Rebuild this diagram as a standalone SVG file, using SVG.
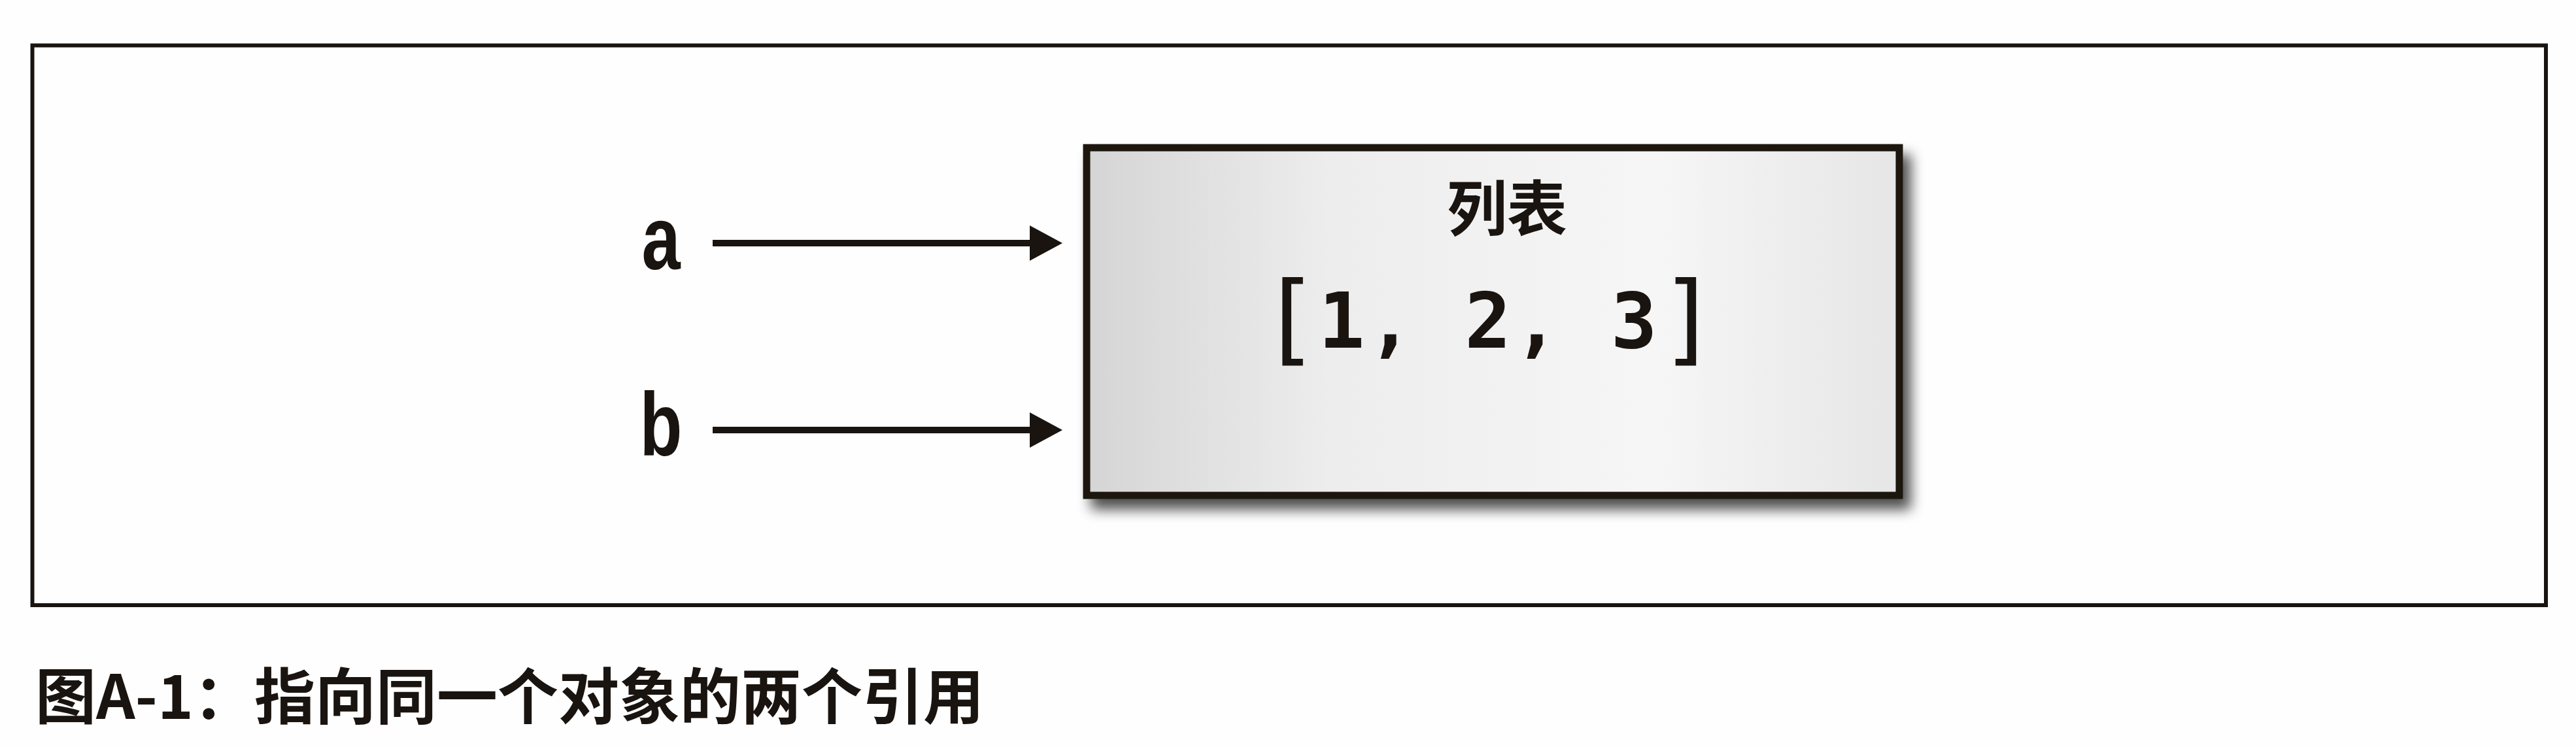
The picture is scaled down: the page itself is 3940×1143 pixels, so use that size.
<svg xmlns="http://www.w3.org/2000/svg" width="3940" height="1143" viewBox="0 0 3940 1143">
  <style>
    .ink { fill: #1a1410; }
    .frame { fill: none; stroke: #1a1410; stroke-width: 6; }
    .box { fill: url(#boxFill); stroke: #1a1410; stroke-width: 11; }
    .conn { stroke: #1a1410; stroke-width: 10; fill: none; marker-end: url(#arrow); }
    .var { font-family: "Liberation Sans Narrow", "Liberation Sans", Arial, sans-serif; font-weight: 700; font-size: 138px; text-anchor: middle; }
    .title { font-family: "Noto Sans CJK SC", "Noto Sans", sans-serif; font-weight: 700; font-size: 92px; text-anchor: middle; }
    .mono { font-family: "DejaVu Sans Mono", "Liberation Mono", monospace; }
    .caption { font-family: "Noto Sans CJK SC", "Noto Sans", sans-serif; font-weight: 700; font-size: 93px; }
  </style>
  <defs>
    <linearGradient id="boxFill" x1="0" y1="0" x2="1" y2="0">
      <stop offset="0" stop-color="#d5d5d5"/>
      <stop offset="0.3" stop-color="#ededed"/>
      <stop offset="0.7" stop-color="#f6f6f6"/>
      <stop offset="1" stop-color="#e6e6e6"/>
    </linearGradient>
    <filter id="shadow" x="-10%" y="-10%" width="130%" height="140%">
      <feGaussianBlur in="SourceAlpha" stdDeviation="10"/>
      <feOffset dx="12" dy="16" result="b"/>
      <feComponentTransfer><feFuncA type="linear" slope="0.7"/></feComponentTransfer>
      <feMerge><feMergeNode/><feMergeNode in="SourceGraphic"/></feMerge>
    </filter>
    <marker id="arrow" markerUnits="userSpaceOnUse" markerWidth="52" markerHeight="56" refX="15" refY="27" orient="auto">
      <path d="M0,0 L50,27 L0,54 Z" fill="#1a1410"/>
    </marker>
  </defs>

  <rect x="0" y="0" width="3940" height="1143" fill="#fefefe"/>

  <g id="frame">
    <rect class="frame" x="49.5" y="69.5" width="3844.5" height="856.5"/>
  </g>

  <g id="node-list">
    <rect class="box" x="1662" y="226" width="1243" height="532" filter="url(#shadow)"/>
    <text class="title ink" x="2305" y="353">列表</text>
    <text class="mono ink">
      <tspan x="1927" y="539" font-size="152">[</tspan>
      <tspan x="2016.5" y="532" font-size="118" font-weight="700" letter-spacing="3.5">1, 2, 3</tspan>
      <tspan x="2537" y="539" font-size="152">]</tspan>
    </text>
  </g>

  <g id="node-a">
    <text class="var ink" transform="translate(1011 412) scale(0.77 1)" x="0" y="0">a</text>
  </g>

  <g id="node-b">
    <text class="var ink" transform="translate(1011 697) scale(0.77 1)" x="0" y="0">b</text>
  </g>

  <g id="connectors">
    <line class="conn" x1="1090" y1="372" x2="1590" y2="372"/>
    <line class="conn" x1="1090" y1="658" x2="1590" y2="658"/>
  </g>

  <g id="caption">
    <text class="caption ink" x="54" y="1100">图A-1：指向同一个对象的两个引用</text>
  </g>
</svg>
